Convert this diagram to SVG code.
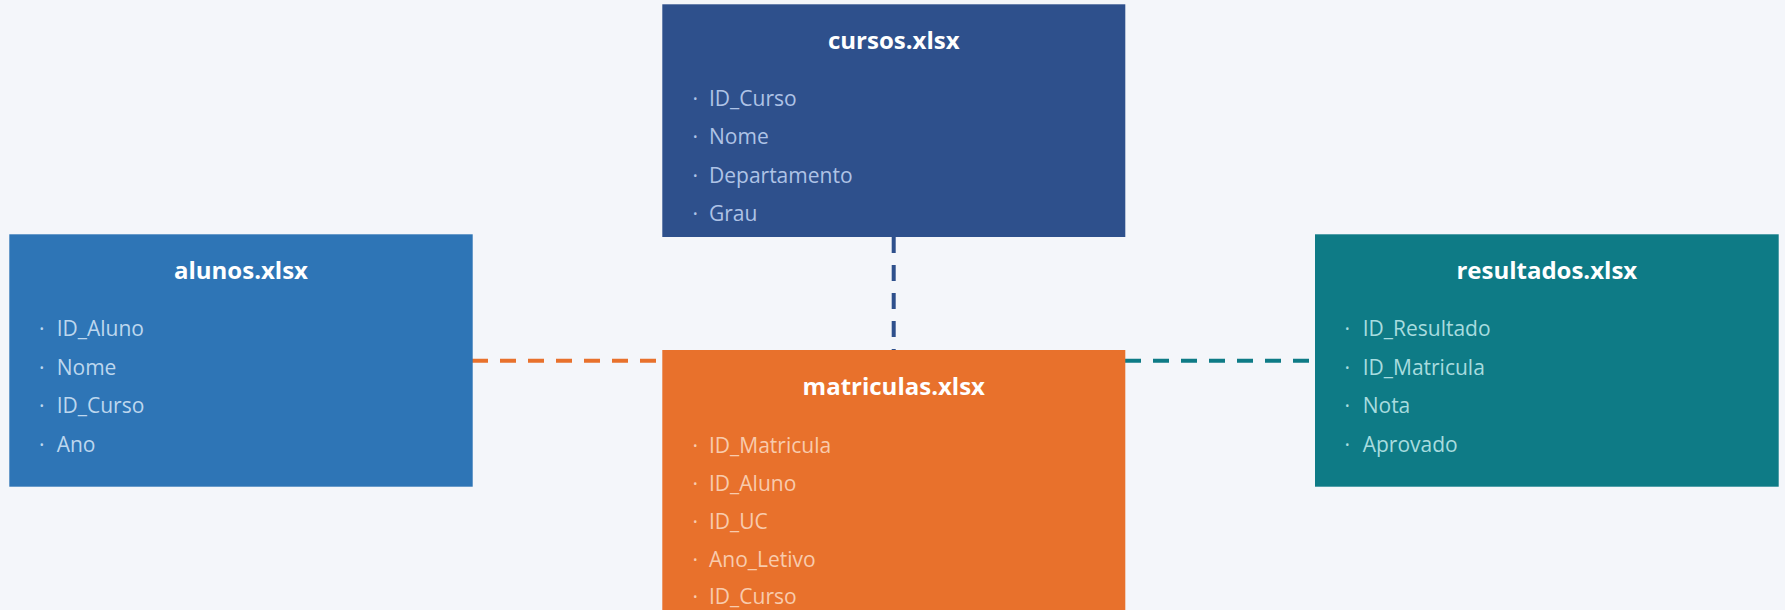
<svg xmlns="http://www.w3.org/2000/svg" width="1785" height="610" viewBox="0 0 1785 610">
  <style>
    .title { font-family: "Open Sans", "Liberation Sans", sans-serif; font-weight: 700; font-size: 24px; fill: #ffffff; text-anchor: middle; }
    .item { font-family: "Open Sans", "Liberation Sans", sans-serif; font-size: 21px; }
    #cursos .item { fill: #AEC3E6; }
    #alunos .item { fill: #BDD7EE; }
    #matriculas .item { fill: #F8CBAD; }
    #resultados .item { fill: #A8DCDF; }
    .conn { fill: none; stroke-width: 4; stroke-dasharray: 16 12; }
  </style>
  <rect x="0" y="0" width="1785" height="610" fill="#F4F6FA"/>

  <!-- relationship connectors -->
  <g id="connectors">
    <line class="conn" x1="893.7" y1="237" x2="893.7" y2="350" stroke="#2E508C"/>
    <line class="conn" x1="472" y1="360.7" x2="662" y2="360.7" stroke="#E8712C"/>
    <line class="conn" x1="1125" y1="360.7" x2="1315" y2="360.7" stroke="#0E7B86"/>
  </g>

  <!-- cursos table -->
  <g id="cursos">
    <rect x="662.3" y="4.3" width="463" height="232.7" fill="#2E508C"/>
    <text class="title" x="893.8" y="49">cursos.xlsx</text>
    <text class="item"><tspan x="692.4" y="106">·</tspan><tspan x="709" y="106">ID_Curso</tspan></text>
    <text class="item"><tspan x="692.4" y="144">·</tspan><tspan x="709" y="144">Nome</tspan></text>
    <text class="item"><tspan x="692.4" y="182.5">·</tspan><tspan x="709" y="182.5">Departamento</tspan></text>
    <text class="item"><tspan x="692.4" y="220.7">·</tspan><tspan x="709" y="220.7">Grau</tspan></text>
  </g>

  <!-- alunos table -->
  <g id="alunos">
    <rect x="9.3" y="234.3" width="463.4" height="252.4" fill="#2E75B6"/>
    <text class="title" x="241" y="279.3">alunos.xlsx</text>
    <text class="item"><tspan x="39" y="335.7">·</tspan><tspan x="56.7" y="335.7">ID_Aluno</tspan></text>
    <text class="item"><tspan x="39" y="374.5">·</tspan><tspan x="56.7" y="374.5">Nome</tspan></text>
    <text class="item"><tspan x="39" y="413">·</tspan><tspan x="56.7" y="413">ID_Curso</tspan></text>
    <text class="item"><tspan x="39" y="451.7">·</tspan><tspan x="56.7" y="451.7">Ano</tspan></text>
  </g>

  <!-- matriculas table -->
  <g id="matriculas">
    <rect x="662.3" y="350" width="463" height="270" fill="#E8712C"/>
    <text class="title" x="893.8" y="395">matriculas.xlsx</text>
    <text class="item"><tspan x="692.4" y="452.7">·</tspan><tspan x="709" y="452.7">ID_Matricula</tspan></text>
    <text class="item"><tspan x="692.4" y="490.7">·</tspan><tspan x="709" y="490.7">ID_Aluno</tspan></text>
    <text class="item"><tspan x="692.4" y="528.7">·</tspan><tspan x="709" y="528.7">ID_UC</tspan></text>
    <text class="item"><tspan x="692.4" y="567">·</tspan><tspan x="709" y="567">Ano_Letivo</tspan></text>
    <text class="item"><tspan x="692.4" y="604">·</tspan><tspan x="709" y="604">ID_Curso</tspan></text>
  </g>

  <!-- resultados table -->
  <g id="resultados">
    <rect x="1315" y="234.3" width="463.7" height="252.4" fill="#0E7B86"/>
    <text class="title" x="1546.8" y="279.3">resultados.xlsx</text>
    <text class="item"><tspan x="1344.5" y="335.7">·</tspan><tspan x="1362.7" y="335.7">ID_Resultado</tspan></text>
    <text class="item"><tspan x="1344.5" y="374.5">·</tspan><tspan x="1362.7" y="374.5">ID_Matricula</tspan></text>
    <text class="item"><tspan x="1344.5" y="413">·</tspan><tspan x="1362.7" y="413">Nota</tspan></text>
    <text class="item"><tspan x="1344.5" y="451.7">·</tspan><tspan x="1362.7" y="451.7">Aprovado</tspan></text>
  </g>
</svg>
